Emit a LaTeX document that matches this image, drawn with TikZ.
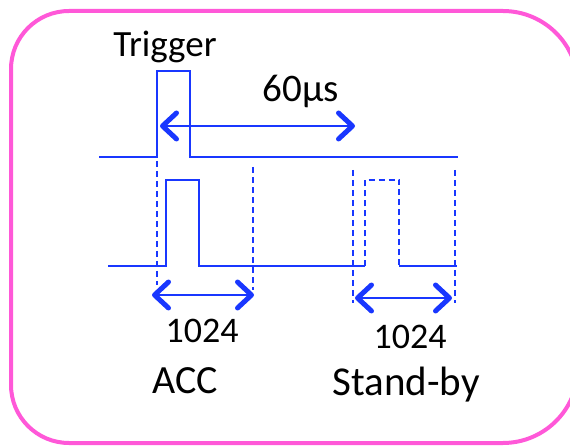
\documentclass[tikz,border=0pt]{standalone}
\usepackage{fontspec}
\setmainfont{Carlito}
\usepackage{tikz}
\usetikzlibrary{arrows.meta}
\definecolor{sigblue}{RGB}{25,55,255}
\definecolor{framepink}{RGB}{255,88,216}

\begin{document}
\begin{tikzpicture}[
    x=1pt, y=-1pt,
    frame/.style={draw=framepink, line width=4pt},
    sig/.style={draw=sigblue, line width=2pt},
    sigdash/.style={draw=sigblue, line width=2pt, dash pattern=on 6pt off 4pt},
    span/.style={draw=sigblue, line width=2.6pt,
                 {Straight Barb[length=14pt,width=26pt,line width=5pt,round]}-{Straight Barb[length=14pt,width=26pt,line width=5pt,round]}},
    lbl/.style={anchor=base, inner sep=0pt, text=black},
    big/.style={font=\fontsize{40}{44}\selectfont},
    mid/.style={font=\fontsize{39}{44}\selectfont},
    small/.style={font=\fontsize{37}{42}\selectfont}
]
\useasboundingbox (0,0) rectangle (570,446);
\clip (0,0) rectangle (570,446);
% frame, left and right halves
\draw[frame, rounded corners=58pt] (300,11) -- (11,11) -- (11,443) -- (300,443);
\draw[frame, rounded corners=75pt] (300,443) -- (578,443) -- (578,11) -- (300,11);

% trigger line
\draw[sig] (99,157.5) -- (156.5,157.5) -- (156.5,71) -- (190,71) -- (190,157.5) -- (458,157.5);
% ACC pulse and stand-by pulse
\draw[sig] (108,266.5) -- (165.5,266.5) -- (165.5,180) -- (199,180) -- (199,266.5) -- (365,266.5);
\draw[sigdash] (365,266.5) -- (365,180) -- (399,180) -- (399,266.5);
\draw[sig] (399,266.5) -- (457,266.5);

% window marks
\draw[sigdash] (156.5,161) -- (156.5,285);
\draw[sigdash] (253,167) -- (253,290);
\draw[sigdash] (352.5,170) -- (352.5,303);
\draw[sigdash] (455,170) -- (455,303);

% spans
\coordinate (waitL) at (160,126);
\coordinate (waitR) at (355,126);
\coordinate (accL) at (152,295);
\coordinate (accR) at (254,295);
\coordinate (stbL) at (355,298);
\coordinate (stbR) at (452,298);
\draw[span] (waitL) -- (waitR);
\draw[span] (accL) -- (accR);
\draw[span] (stbL) -- (stbR);

% labels
\node[lbl, small] (trig) at (165,57) {Trigger};
\node[lbl, mid] (wait) at (301,102) {60µs};
\node[lbl, font=\fontsize{36}{40}\selectfont] (accn) at (202,342) {1024};
\node[lbl, big] (acc) at (185,393) {ACC};
\node[lbl, font=\fontsize{36}{40}\selectfont] (stbn) at (410,348) {1024};
\node[lbl, font=\fontsize{41}{46}\selectfont] (stb) at (406,395) {Stand-by};
\end{tikzpicture}
\end{document}
